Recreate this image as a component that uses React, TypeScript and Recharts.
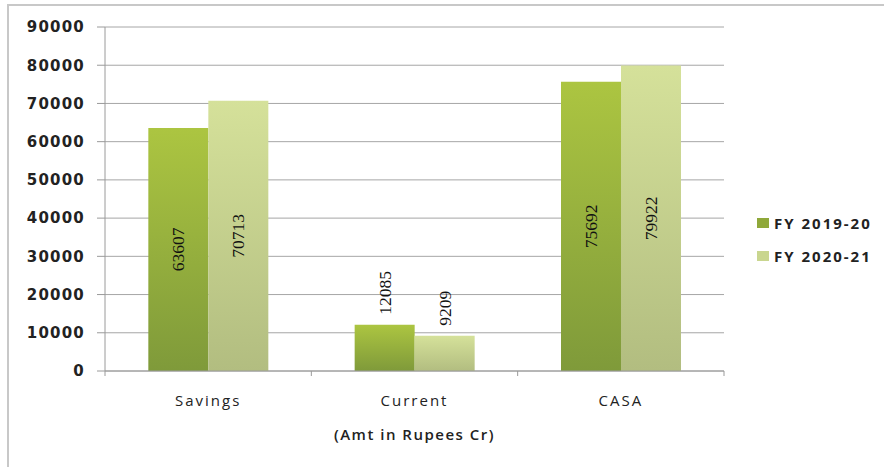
import { BarChart, Bar, XAxis, YAxis, CartesianGrid, LabelList } from "recharts"

const categories = ["Savings", "Current", "CASA"]
const fy2019 = [63607, 12085, 75692]
const fy2020 = [70713, 9209, 79922]
const yTicks = [0, 10000, 20000, 30000, 40000, 50000, 60000, 70000, 80000, 90000]
const seriesNames = ["FY 2019-20", "FY 2020-21"]

const data = categories.map((name, i) => ({ name, fy2019: fy2019[i], fy2020: fy2020[i] }))

const W = 884
const H = 467
const M = { top: 27, right: 160, left: 0, bottom: 66 }
const Y_W = 105
const band = (W - M.right - Y_W) / categories.length

const ValueLabel = (props: any) => {
  const { x, y, width, height, value } = props
  const cx = x + width / 2
  // small bars get the label above, big ones centred inside
  const inside = height > 80
  const cy = inside ? y + height / 2 : y - 10
  return (
    <text
      x={cx}
      y={cy}
      transform={`rotate(-90 ${cx} ${cy})`}
      textAnchor={inside ? "middle" : "start"}
      dominantBaseline="central"
      fontFamily="Liberation Serif"
      fontSize={17.5}
      fill="#111"
    >
      {value}
    </text>
  )
}

const CatTick = (props: any) => {
  const { x, y, payload, index } = props
  return (
    <g>
      {index === 0 && <line x1={x - band / 2} y1={y} x2={x - band / 2} y2={y + 5} stroke="#9a9a9a" />}
      <line x1={x + band / 2} y1={y} x2={x + band / 2} y2={y + 5} stroke="#9a9a9a" />
      <text
        x={x}
        y={y + 35}
        textAnchor="middle"
        fontFamily="Open Sans"
        fontSize={15}
        letterSpacing={2}
        fill="#222"
      >
        {payload.value}
      </text>
    </g>
  )
}

const legendColors = ["#8fa83a", "#c9d68f"]

export default function App() {
  return (
    <div style={{ position: "absolute", left: 0, top: 0, width: W, height: H, background: "#fff", overflow: "hidden" }}>
      <div
        style={{
          position: "absolute",
          left: 7,
          top: 4,
          width: W,
          height: H,
          borderLeft: "2px solid #c8c8c8",
          borderTop: "2px solid #c8c8c8",
        }}
      />
      <div style={{ position: "absolute", left: 0, top: 0 }}>
        <BarChart width={W} height={H} data={data} margin={M} barCategoryGap="21%" barGap={0}>
          <defs>
            <linearGradient id="g1" x1="0" y1="0" x2="0" y2="1">
              <stop offset="0%" stopColor="#acc541" />
              <stop offset="100%" stopColor="#7f9a3a" />
            </linearGradient>
            <linearGradient id="g2" x1="0" y1="0" x2="0" y2="1">
              <stop offset="0%" stopColor="#d5e19a" />
              <stop offset="100%" stopColor="#b2bd80" />
            </linearGradient>
          </defs>
          <CartesianGrid vertical={false} stroke="#a6a6a6" />
          <XAxis
            dataKey="name"
            stroke="#9a9a9a"
            height={30}
            tickLine={false}
            tickSize={0}
            tickMargin={0}
            tick={<CatTick />}
            label={{
              value: "(Amt in Rupees Cr)",
              position: "bottom",
              offset: 28,
              fontFamily: "Open Sans",
              fontSize: 15,
              fontWeight: 600,
              letterSpacing: 1.5,
              fill: "#222",
            }}
          />
          <YAxis
            width={Y_W}
            domain={[0, 90000]}
            ticks={yTicks}
            stroke="#9a9a9a"
            tickSize={8}
            tickMargin={12}
            tick={{ fontFamily: "DejaVu Sans", fontSize: 15, fontWeight: 700, letterSpacing: 1.2, fill: "#222" }}
          />
          <Bar dataKey="fy2019" name={seriesNames[0]} fill="url(#g1)" isAnimationActive={false}>
            <LabelList dataKey="fy2019" content={<ValueLabel />} />
          </Bar>
          <Bar dataKey="fy2020" name={seriesNames[1]} fill="url(#g2)" isAnimationActive={false}>
            <LabelList dataKey="fy2020" content={<ValueLabel />} />
          </Bar>
        </BarChart>
      </div>
      <div
        style={{
          position: "absolute",
          left: 757,
          top: 206,
          fontFamily: "Open Sans",
          fontSize: 15,
          fontWeight: 700,
          letterSpacing: 2,
          color: "#222",
        }}
      >
        {seriesNames.map((label, i) => (
          <div key={label} style={{ display: "flex", alignItems: "center", height: 33, whiteSpace: "nowrap" }}>
            <span style={{ width: 12, height: 10, background: legendColors[i], marginRight: 5, display: "inline-block" }} />
            {label}
          </div>
        ))}
      </div>
    </div>
  )
}
